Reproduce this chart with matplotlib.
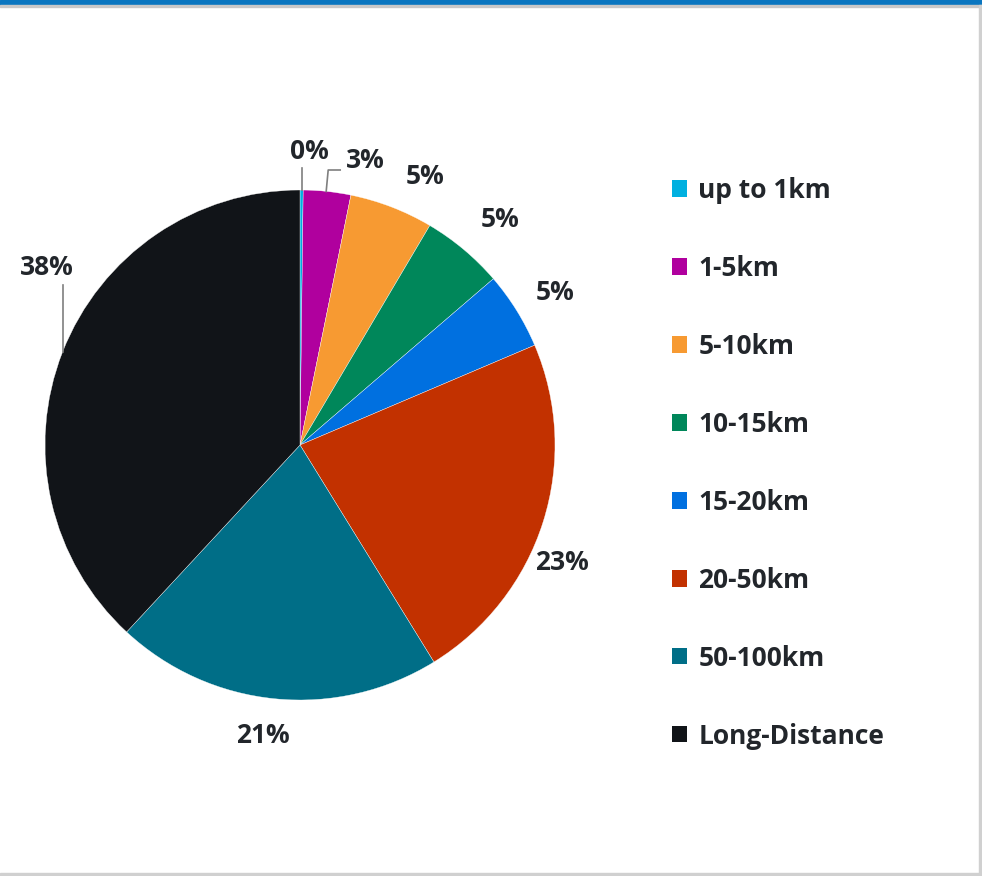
import numpy as np
import matplotlib
matplotlib.use("Agg")
import matplotlib.pyplot as plt
from matplotlib.patches import Rectangle

plt.rcParams['font.family'] = ['Open Sans', 'DejaVu Sans']

# share of trips by distance band (%)
categories = ["up to 1km", "1-5km", "5-10km", "10-15km", "15-20km",
              "20-50km", "50-100km", "Long-Distance"]
shares = [0.2, 3.0, 5.3, 5.2, 4.9, 22.6, 20.7, 38.1]
colors = ["#00B0E0", "#B0009E", "#F79A32", "#00875A", "#0070E0",
          "#C23100", "#006E87", "#111418"]

# label placement: angle clockwise from 12 o'clock (deg), distance from centre (px)
label_angles = [1.8, 13, 25, 41.6, 59, 114.2, 187.2, 305]
label_dist = [294, 292, 296, 301, 297, 287, 293, 309]

W, H = 982, 876
cx, cy, R = 300, H - 445, 255
text_color = "#22262B"
fs = 19

fig = plt.figure(figsize=(W / 100, H / 100), dpi=100)
ax = fig.add_axes([0, 0, 1, 1])
ax.axis("off")

wedges, _ = ax.pie(shares, colors=colors, startangle=90, counterclock=False,
                   center=(cx, cy), radius=R,
                   wedgeprops=dict(edgecolor="white", linewidth=0.25))
ax.set_xlim(0, W)
ax.set_ylim(0, H)
ax.set_aspect("equal")

for s, a, d in zip(shares, label_angles, label_dist):
    t = np.deg2rad(a)
    ax.text(cx + d * np.sin(t), cy + d * np.cos(t), f"{round(s):.0f}%",
            ha="center", va="center", fontsize=fs, fontweight="bold",
            color=text_color)

# leader lines for the labels pushed away from their slices
cum = np.cumsum([0] + shares)
mid = (cum[:-1] + cum[1:]) / 2 * 3.6
def rim(i):
    t = np.deg2rad(mid[i])
    return cx + R * np.sin(t), cy + R * np.cos(t)

lc = dict(color="#7F7F7F", linewidth=1.2)
x0, y0 = rim(0)
ax.plot([x0, x0], [y0, H - 168], **lc)
x1, y1 = rim(1)
ax.plot([x1 - 1, x1 + 1, x1 + 13], [y1, H - 170, H - 170], **lc)
x7, y7 = rim(7)
ax.plot([x7, x7], [y7, H - 285], **lc)

leg = ax.legend(wedges, categories, loc="upper left",
                bbox_to_anchor=(672, H - 177), bbox_transform=ax.transData,
                frameon=False, handlelength=0.58, handleheight=0.58,
                handletextpad=0.42, labelspacing=1.93, borderpad=0,
                borderaxespad=0,
                prop=dict(size=fs, weight="bold"))
for txt in leg.get_texts():
    txt.set_color(text_color)
for p in leg.get_patches():
    p.set_edgecolor("none")

# page frame: blue band on top, grey border right and bottom
ax.add_patch(Rectangle((0, H - 5), W, 5, color="#0A76C0", clip_on=False))
ax.add_patch(Rectangle((0, H - 7), W, 2, color="#C8C8C8", clip_on=False))
ax.add_patch(Rectangle((W - 3, 0), 3, H - 5, color="#D0D0D0", clip_on=False))
ax.add_patch(Rectangle((0, 0), W, 3, color="#D0D0D0", clip_on=False))

fig.savefig("out.png", dpi=100)
